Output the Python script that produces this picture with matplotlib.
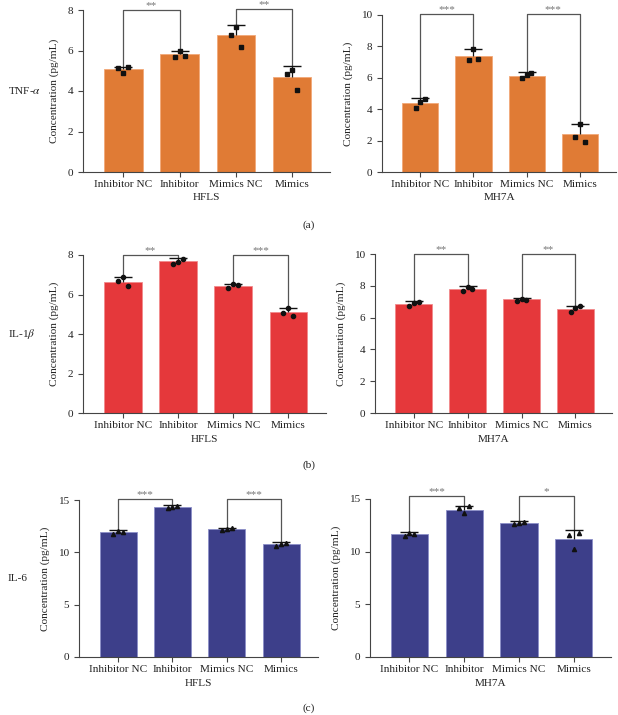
import matplotlib
matplotlib.use("Agg")
import matplotlib.pyplot as plt
import numpy as np

plt.rcParams['font.family'] = ['Liberation Serif', 'DejaVu Serif']
plt.rcParams['mathtext.fontset'] = 'stix'

groups = ["Inhibitor NC", "Inhibitor", "Mimics NC", "Mimics"]
cells = ["HFLS", "MH7A"]
cytokines = ["TNF-$\\alpha$", "IL-1$\\beta$", "IL-6"]
panel_tags = ["(a)", "(b)", "(c)"]

# bar heights (mean) and upper SD
tnf_hfls_mean = [5.07, 5.82, 6.75, 4.67]
tnf_hfls_sd = [0.13, 0.17, 0.51, 0.56]
tnf_hfls_pts = [[5.12, 4.90, 5.18], [5.70, 5.97, 5.73], [6.78, 7.15, 6.15], [4.85, 5.05, 4.05]]
tnf_mh7a_mean = [4.39, 7.41, 6.14, 2.40]
tnf_mh7a_sd = [0.32, 0.40, 0.23, 0.64]
tnf_mh7a_pts = [[4.05, 4.47, 4.62], [7.15, 7.86, 7.20], [6.00, 6.20, 6.32], [2.20, 3.05, 1.90]]

il1b_hfls_mean = [6.65, 7.70, 6.45, 5.09]
il1b_hfls_sd = [0.25, 0.13, 0.10, 0.24]
il1b_hfls_pts = [[6.68, 6.90, 6.42], [7.55, 7.65, 7.82], [6.35, 6.52, 6.47], [5.05, 5.30, 4.90]]
il1b_mh7a_mean = [6.84, 7.81, 7.14, 6.55]
il1b_mh7a_sd = [0.19, 0.15, 0.12, 0.21]
il1b_mh7a_pts = [[6.70, 6.90, 7.00], [7.70, 7.95, 7.80], [7.05, 7.20, 7.12], [6.35, 6.60, 6.75]]

il6_hfls_mean = [11.97, 14.33, 12.19, 10.79]
il6_hfls_sd = [0.19, 0.16, 0.13, 0.16]
il6_hfls_pts = [[11.75, 12.05, 11.95], [14.20, 14.30, 14.40], [12.10, 12.20, 12.30], [10.65, 10.80, 10.90]]
il6_mh7a_mean = [11.66, 13.98, 12.71, 11.19]
il6_mh7a_sd = [0.22, 0.32, 0.16, 0.88]
il6_mh7a_pts = [[11.45, 11.80, 11.70], [14.10, 13.70, 14.30], [12.60, 12.75, 12.80], [11.60, 10.30, 11.80]]

# significance: (bar i, bar j, bracket height, stars)
tnf_hfls_sig = [(0, 1, 8.0, "**"), (2, 3, 8.04, "**")]
tnf_mh7a_sig = [(0, 1, 10.06, "***"), (2, 3, 10.06, "***")]
il1b_hfls_sig = [(0, 1, 8.0, "**"), (2, 3, 8.0, "***")]
il1b_mh7a_sig = [(0, 1, 10.0, "**"), (2, 3, 10.0, "**")]
il6_hfls_sig = [(0, 1, 15.07, "***"), (2, 3, 15.07, "***")]
il6_mh7a_sig = [(0, 1, 15.25, "***"), (2, 3, 15.25, "*")]

tnf_ticks = [[0, 2, 4, 6, 8], [0, 2, 4, 6, 8, 10]]
il1b_ticks = [[0, 2, 4, 6, 8], [0, 2, 4, 6, 8, 10]]
il6_ticks = [[0, 5, 10, 15], [0, 5, 10, 15]]

colors = ["#E07B35", "#E5383B", "#3D3F8A"]
edges = ["#F2A878", "#F28A8C", "#8C8FC8"]
markers = ["s", "o", "^"]

panels = [
    [(tnf_hfls_mean, tnf_hfls_sd, tnf_hfls_pts, tnf_hfls_sig),
     (tnf_mh7a_mean, tnf_mh7a_sd, tnf_mh7a_pts, tnf_mh7a_sig)],
    [(il1b_hfls_mean, il1b_hfls_sd, il1b_hfls_pts, il1b_hfls_sig),
     (il1b_mh7a_mean, il1b_mh7a_sd, il1b_mh7a_pts, il1b_mh7a_sig)],
    [(il6_hfls_mean, il6_hfls_sd, il6_hfls_pts, il6_hfls_sig),
     (il6_mh7a_mean, il6_mh7a_sd, il6_mh7a_pts, il6_mh7a_sig)],
]
ticks = [tnf_ticks, il1b_ticks, il6_ticks]

# axes boxes in pixels: left, top, right, bottom
boxes = [
    [(83, 10, 330, 172), (382, 15, 616, 172)],
    [(83, 255, 326, 413), (375, 254, 612, 413)],
    [(79, 500, 318, 657), (370, 499, 611, 657)],
]

W, H = 618, 715
fig = plt.figure(figsize=(W / 100, H / 100), dpi=100)
fs = 8.1
axcol = "#444444"
offs = [-0.09, 0.0, 0.09]

for r in range(3):
    for c in range(2):
        mean, sd, pts, sig = panels[r][c]
        l, t, rr, b = boxes[r][c]
        ax = fig.add_axes([l / W, 1 - b / H, (rr - l) / W, (b - t) / H])
        x = np.arange(len(groups))
        ax.bar(x, mean, width=0.68, color=colors[r], edgecolor=edges[r], linewidth=0.6, zorder=2)
        tops = np.array(mean) + np.array(sd)
        ax.vlines(x, mean, tops, color="#111111", linewidth=0.9, zorder=3)
        ax.plot(x, tops, ls="none", marker="_", markersize=13, markeredgewidth=1.0,
                color="#111111", zorder=3)
        for i, p in enumerate(pts):
            ax.plot(x[i] + np.array(offs), p, ls="none", marker=markers[r], markersize=3.0,
                    color="#111111", zorder=4)
        for i, j, h, s in sig:
            ax.plot([x[i], x[i], x[j], x[j]], [tops[i], h, h, tops[j]], color="#555555",
                    linewidth=0.9, zorder=1, clip_on=False)
            ax.text((x[i] + x[j]) / 2, h, s, ha="center", va="bottom", fontsize=fs,
                    color="#777777", clip_on=False)
        yt = ticks[r][c]
        ax.set_ylim(0, yt[-1])
        ax.set_yticks(yt)
        ax.set_xlim(-0.72, 3.68)
        ax.set_xticks(x)
        ax.set_xticklabels(groups, fontsize=fs, color="#222222")
        ax.tick_params(axis="y", labelsize=fs, colors=axcol, labelcolor="#222222",
                       length=3.5, width=0.8)
        ax.tick_params(axis="x", colors=axcol, labelcolor="#222222", length=3.5,
                       width=0.8, pad=2.5)
        for sp in ["top", "right"]:
            ax.spines[sp].set_visible(False)
        for sp in ["left", "bottom"]:
            ax.spines[sp].set_color(axcol)
            ax.spines[sp].set_linewidth(0.8)
        ax.set_ylabel("Concentration (pg/mL)", fontsize=fs, color="#222222", labelpad=6)
        ax.set_xlabel(cells[c], fontsize=fs, color="#222222", labelpad=3)
        if c == 0:
            ax.text(8 / W, 1 - ((t + b) / 2) / H, cytokines[r], transform=fig.transFigure,
                    fontsize=fs, ha="left", va="center", color="#222222")

tag_y = [225, 465, 708]
for r in range(3):
    fig.text(309 / W, 1 - tag_y[r] / H, panel_tags[r], fontsize=fs, ha="center",
             va="center", color="#222222")

fig.savefig("out.png", dpi=100)
